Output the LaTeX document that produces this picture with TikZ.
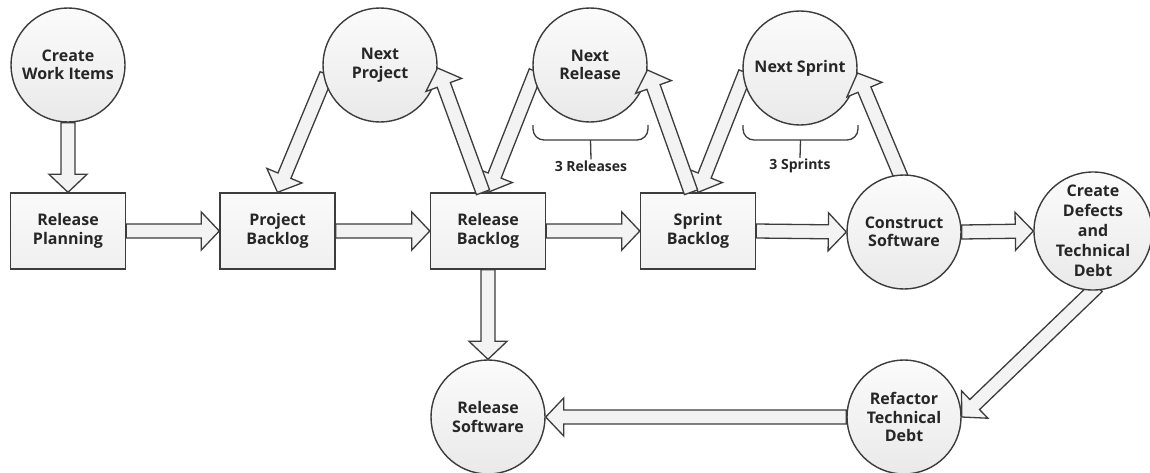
\documentclass[tikz,border=0pt]{standalone}
\usepackage{fontspec}
\setmainfont{Open Sans}
\usetikzlibrary{calc}
\pgfdeclarelayer{bg}
\pgfdeclarelayer{paper}
\pgfdeclarelayer{arr}
\pgfdeclarelayer{top}
\pgfsetlayers{paper,bg,main,arr,top}
\definecolor{edgec}{HTML}{3C3C3C}
\definecolor{afill}{HTML}{F3F3F3}
\newcommand\blockarrow[3][0pt]{%
  \coordinate (baA) at ($(#2)!-#1!(#3)$);
  \coordinate (baC) at ($(#3)!18pt!(#2)$);
  \filldraw[barrow] ($(baA)!7pt!90:(#3)$) -- ($(baC)!7pt!90:(#3)$) -- ($(baC)!19pt!90:(#3)$) -- (#3)
    -- ($(baC)!19pt!-90:(#3)$) -- ($(baC)!7pt!-90:(#3)$) -- ($(baA)!7pt!-90:(#3)$) -- cycle;}
\tikzset{
  barrow/.style={draw=edgec, fill=afill, line width=1.3pt, line join=miter},
  txt/.style={font=\bfseries\fontsize{16}{18.5}\selectfont, text=black!85, align=center},
  circ/.style={txt, circle, draw=edgec, line width=1.4pt, top color=gray!3, bottom color=gray!17,
    minimum size=114pt, inner sep=0pt},
  boxn/.style={txt, rectangle, draw=edgec, line width=1.4pt, top color=gray!4, bottom color=gray!12,
    minimum width=115pt, minimum height=76pt, inner sep=0pt},
  brc/.style={draw=edgec, line width=1.3pt, rounded corners=11pt},
  lbl/.style={font=\bfseries\fontsize{14}{16}\selectfont, text=black!85, inner sep=1pt}
}
\begin{document}
\begin{tikzpicture}[x=1pt,y=-1pt]
\useasboundingbox (0,0) rectangle (1150,472);
\begin{pgfonlayer}{paper}
\fill[white] (0,0) rectangle (1150,472);
\end{pgfonlayer}
% nodes
\node[circ] (cwi) at (68,65) {Create\\Work Items};
\node[boxn] (rp) at (68,231) {Release\\Planning};
\node[boxn] (pb) at (277.5,231) {Project\\Backlog};
\node[circ] (np) at (380,65) {Next\\Project};
\node[boxn] (rb) at (488,231) {Release\\Backlog};
\node[circ] (nr) at (590,65) {Next\\Release};
\node[boxn] (sb) at (698,231) {Sprint\\Backlog};
\node[circ] (ns) at (800,68) {Next Sprint};
\begin{pgfonlayer}{top}
\node[circ] (cs) at (904,232) {Construct\\Software};
\end{pgfonlayer}
\node[circ, font=\bfseries\fontsize{16}{20}\selectfont] (cd) at (1093,231) {Create\\Defects\\and\\Technical\\Debt};
\node[circ] (rtd) at (904,417) {Refactor\\Technical\\Debt};
\node[circ] (rs) at (488,417) {Release\\Software};
% labels
\node[lbl] (lr) at (591,166) {3 Releases};
\node[lbl] (ls) at (800,166) {3 Sprints};
% braces
\coordinate (brm) at ($(nr.center)+(0.5,75)$);
\draw[brc] ($(nr.center)+(-57,60)$) -- ($(nr.center)+(-57,75)$) -- ($(nr.center)+(58,75)$) -- ($(nr.center)+(58,60)$);
\draw[draw=edgec, line width=1.3pt] (brm) -- (lr.north);
\coordinate (bsm) at ($(ns.center)+(0.5,72)$);
\draw[brc] ($(ns.center)+(-57,57)$) -- ($(ns.center)+(-57,72)$) -- ($(ns.center)+(58,72)$) -- ($(ns.center)+(58,57)$);
\draw[draw=edgec, line width=1.3pt] (bsm) -- (ls.north);
% helper points
\coordinate (rbu) at ([xshift=-5pt]rb.north);
\coordinate (sbu) at ([xshift=-7pt]sb.north);
% arrows
\begin{pgfonlayer}{bg}
\blockarrow{cwi.south}{rp.north}
\blockarrow{rp.east}{pb.west}
\blockarrow{pb.east}{rb.west}
\blockarrow{rb.east}{sb.west}
\blockarrow{sb.east}{cs.west}
\blockarrow{cs.east}{cd.west}
\blockarrow[6pt]{np.195}{pb.north}
\blockarrow[6pt]{nr.192}{rb.north}
\blockarrow[6pt]{ns.190}{sb.north}
\blockarrow[6pt]{cd.south}{rtd.east}
\blockarrow{rtd.west}{rs.east}
\blockarrow{rb.south}{rs.north}
\end{pgfonlayer}
\begin{pgfonlayer}{arr}
\blockarrow{rbu}{np.-3}
\blockarrow{sbu}{nr.-5}
\blockarrow[8pt]{cs.94}{ns.-5}
\end{pgfonlayer}
\end{tikzpicture}
\end{document}
